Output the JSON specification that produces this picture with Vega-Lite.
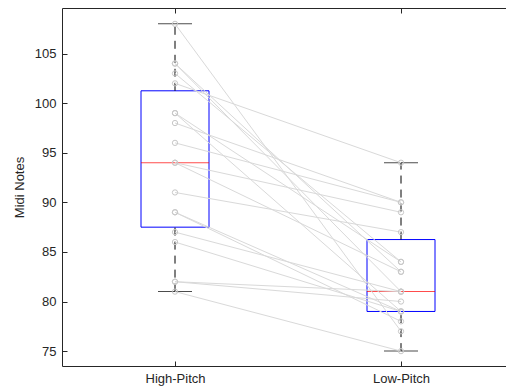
{
  "$schema": "https://vega.github.io/schema/vega-lite/v6.json",
  "width": 444,
  "height": 358,
  "autosize": "none",
  "padding": {"left": 62, "top": 8, "right": 0, "bottom": 26},
  "background": "white",
  "config": {
    "view": {"stroke": null},
    "font": "Liberation Sans",
    "axis": {
      "domainColor": "#262626",
      "tickColor": "#262626",
      "labelColor": "#262626",
      "titleColor": "#262626",
      "labelFont": "Liberation Sans",
      "titleFont": "Liberation Sans",
      "labelFontSize": 13,
      "titleFontSize": 13,
      "titleFontWeight": "normal",
      "grid": false,
      "tickSize": -5
    }
  },
  "datasets": {
    "pairs": [
      {"subject": 1, "condition": "High-Pitch", "note": 108}, {"subject": 1, "condition": "Low-Pitch", "note": 77},
      {"subject": 2, "condition": "High-Pitch", "note": 104}, {"subject": 2, "condition": "Low-Pitch", "note": 83},
      {"subject": 3, "condition": "High-Pitch", "note": 103}, {"subject": 3, "condition": "Low-Pitch", "note": 84},
      {"subject": 4, "condition": "High-Pitch", "note": 104}, {"subject": 4, "condition": "Low-Pitch", "note": 81},
      {"subject": 5, "condition": "High-Pitch", "note": 102}, {"subject": 5, "condition": "Low-Pitch", "note": 94},
      {"subject": 6, "condition": "High-Pitch", "note": 99}, {"subject": 6, "condition": "Low-Pitch", "note": 84},
      {"subject": 7, "condition": "High-Pitch", "note": 99}, {"subject": 7, "condition": "Low-Pitch", "note": 79},
      {"subject": 8, "condition": "High-Pitch", "note": 98}, {"subject": 8, "condition": "Low-Pitch", "note": 90},
      {"subject": 9, "condition": "High-Pitch", "note": 96}, {"subject": 9, "condition": "Low-Pitch", "note": 90},
      {"subject": 10, "condition": "High-Pitch", "note": 94}, {"subject": 10, "condition": "Low-Pitch", "note": 89},
      {"subject": 11, "condition": "High-Pitch", "note": 94}, {"subject": 11, "condition": "Low-Pitch", "note": 83},
      {"subject": 12, "condition": "High-Pitch", "note": 91}, {"subject": 12, "condition": "Low-Pitch", "note": 87},
      {"subject": 13, "condition": "High-Pitch", "note": 89}, {"subject": 13, "condition": "Low-Pitch", "note": 79},
      {"subject": 14, "condition": "High-Pitch", "note": 89}, {"subject": 14, "condition": "Low-Pitch", "note": 78},
      {"subject": 15, "condition": "High-Pitch", "note": 87}, {"subject": 15, "condition": "Low-Pitch", "note": 81},
      {"subject": 16, "condition": "High-Pitch", "note": 86}, {"subject": 16, "condition": "Low-Pitch", "note": 79},
      {"subject": 17, "condition": "High-Pitch", "note": 82}, {"subject": 17, "condition": "Low-Pitch", "note": 81},
      {"subject": 18, "condition": "High-Pitch", "note": 82}, {"subject": 18, "condition": "Low-Pitch", "note": 80},
      {"subject": 19, "condition": "High-Pitch", "note": 81}, {"subject": 19, "condition": "Low-Pitch", "note": 75}
    ],
    "boxes": [
      {"condition": "High-Pitch", "lower": 81, "q1": 87.5, "median": 94, "q3": 101.25, "upper": 108},
      {"condition": "Low-Pitch", "lower": 75, "q1": 79, "median": 81, "q3": 86.25, "upper": 94}
    ]
  },
  "resolve": {"axis": {"x": "independent"}},
  "layer": [
    {
      "data": {"name": "boxes"},
      "mark": {"type": "bar", "size": 68, "fill": "transparent", "stroke": "#0000ff", "strokeWidth": 1},
      "encoding": {
        "x": {"field": "condition", "type": "nominal", "sort": null,
              "scale": {"type": "point", "domain": ["High-Pitch", "Low-Pitch"], "range": [0, 452], "padding": 0.5},
              "axis": {"orient": "bottom", "title": null, "labelAngle": 0, "labelPadding": 11, "domainWidth": 1}},
        "y": {"field": "q1", "type": "quantitative", "title": "Midi Notes",
              "scale": {"domain": [73.5, 109.6], "nice": false, "zero": false},
              "axis": {"title": "Midi Notes", "values": [75, 80, 85, 90, 95, 100, 105], "labelPadding": 11, "titlePadding": 8}},
        "y2": {"field": "q3"}
      }
    },
    {
      "data": {"name": "boxes"},
      "mark": {"type": "rule", "color": "#000000", "strokeDash": [8, 6], "strokeWidth": 1},
      "encoding": {
        "x": {"field": "condition", "type": "nominal", "sort": null,
              "axis": {"orient": "top", "title": null, "labels": false, "domainWidth": 1}},
        "y": {"field": "q3", "type": "quantitative", "title": "Midi Notes"},
        "y2": {"field": "upper"}
      }
    },
    {
      "data": {"name": "boxes"},
      "mark": {"type": "rule", "color": "#000000", "strokeDash": [8, 6], "strokeWidth": 1},
      "encoding": {
        "x": {"field": "condition", "type": "nominal", "sort": null, "axis": null},
        "y": {"field": "lower", "type": "quantitative", "title": "Midi Notes"},
        "y2": {"field": "q1"}
      }
    },
    {
      "data": {"name": "boxes"},
      "mark": {"type": "tick", "color": "#000000", "size": 34, "thickness": 1, "orient": "horizontal"},
      "encoding": {
        "x": {"field": "condition", "type": "nominal", "sort": null, "axis": null},
        "y": {"field": "upper", "type": "quantitative", "title": "Midi Notes"}
      }
    },
    {
      "data": {"name": "boxes"},
      "mark": {"type": "tick", "color": "#000000", "size": 34, "thickness": 1, "orient": "horizontal"},
      "encoding": {
        "x": {"field": "condition", "type": "nominal", "sort": null, "axis": null},
        "y": {"field": "lower", "type": "quantitative", "title": "Midi Notes"}
      }
    },
    {
      "data": {"name": "boxes"},
      "mark": {"type": "tick", "color": "#ff0000", "size": 68, "thickness": 1, "orient": "horizontal"},
      "encoding": {
        "x": {"field": "condition", "type": "nominal", "sort": null, "axis": null},
        "y": {"field": "median", "type": "quantitative", "title": "Midi Notes"}
      }
    },
    {
      "data": {"name": "pairs"},
      "mark": {"type": "line", "color": "#d9d9d9", "strokeWidth": 1},
      "encoding": {
        "x": {"field": "condition", "type": "nominal", "sort": null, "axis": null},
        "y": {"field": "note", "type": "quantitative", "title": "Midi Notes"},
        "detail": {"field": "subject", "type": "nominal"}
      }
    },
    {
      "data": {"name": "pairs"},
      "mark": {"type": "point", "shape": "circle", "filled": false, "color": "#c8c8c8", "size": 28, "strokeWidth": 1, "opacity": 1},
      "encoding": {
        "x": {"field": "condition", "type": "nominal", "sort": null, "axis": null},
        "y": {"field": "note", "type": "quantitative", "title": "Midi Notes"}
      }
    }
  ]
}
